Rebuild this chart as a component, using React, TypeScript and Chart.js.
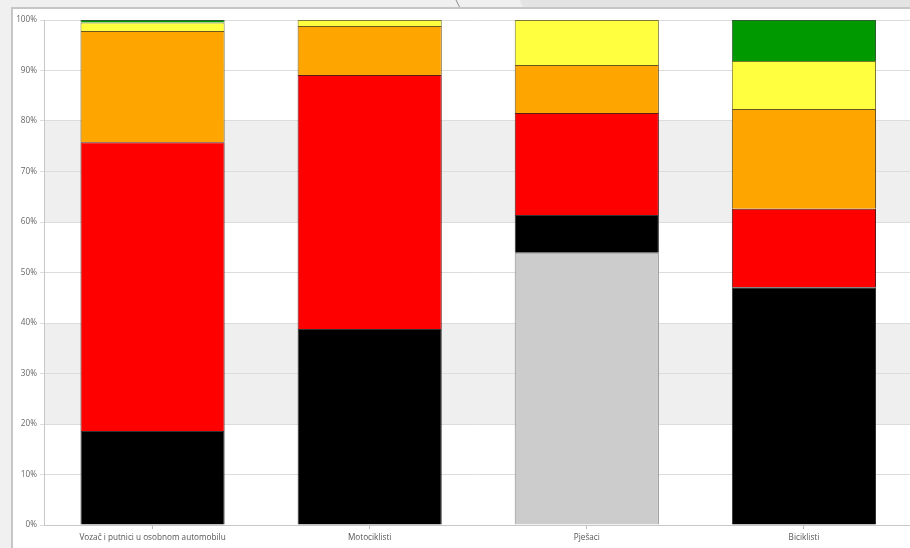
import React, { useEffect, useRef } from "react";
import { Chart, registerables } from "chart.js";

Chart.register(...registerables);

const categories = [
  "Vozač i putnici u osobnom automobilu",
  "Motociklisti",
  "Pješaci",
  "Biciklisti",
];
const greyValues = [null, null, 53.9, null];
const blackValues = [18.6, 38.8, 7.5, 47.1];
const redValues = [57.2, 50.3, 20.2, 15.5];
const orangeValues = [22.0, 9.7, 9.5, 19.8];
const yellowValues = [1.7, 1.2, 8.9, 9.5];
const greenValues = [0.5, null, null, 8.1];
const yTicks = [0, 10, 20, 30, 40, 50, 60, 70, 80, 90, 100];
const shadedBands = [
  [20, 40],
  [60, 80],
];

const W = 920;
const H = 548;

const backgroundPlugin = {
  id: "pageBackground",
  beforeDraw(chart: any) {
    const ctx = chart.ctx;
    const area = chart.chartArea;
    const y = chart.scales.y;
    ctx.save();
    ctx.fillStyle = "#f0f0f0";
    ctx.fillRect(0, 0, W, H);
    ctx.fillStyle = "#e4e4e4";
    ctx.beginPath();
    ctx.moveTo(520, 0);
    ctx.lineTo(W, 0);
    ctx.lineTo(W, 8);
    ctx.lineTo(523, 8);
    ctx.closePath();
    ctx.fill();
    ctx.strokeStyle = "#8a8a8a";
    ctx.lineWidth = 1;
    ctx.beginPath();
    ctx.moveTo(456, 0);
    ctx.lineTo(460, 8);
    ctx.stroke();
    ctx.fillStyle = "#ffffff";
    ctx.fillRect(12, 9, W, H);
    ctx.fillStyle = "#c6c6c6";
    ctx.fillRect(11, 7, W, 2);
    ctx.fillRect(11, 7, 2, H);
    ctx.fillStyle = "#efefef";
    for (const [a, b] of shadedBands) {
      const y1 = y.getPixelForValue(b);
      const y2 = y.getPixelForValue(a);
      ctx.fillRect(area.left, y1, area.right - area.left, y2 - y1);
    }
    ctx.restore();
  },
};

export default function App() {
  const ref = useRef<HTMLCanvasElement>(null);

  useEffect(() => {
    if (!ref.current) return;
    const mk = (label: string, data: any[], bg: string, border: string) => ({
      label,
      data,
      backgroundColor: bg,
      borderColor: border,
      borderWidth: 1,
      categoryPercentage: 1,
      barPercentage: 0.664,
    });
    const chart = new Chart(ref.current, {
      type: "bar",
      data: {
        labels: categories,
        datasets: [
          mk("Nepoznato", greyValues, "#cccccc", "#8c8c8c"),
          mk("Crna", blackValues, "#000000", "#333333"),
          mk("Crvena", redValues, "#ff0000", "#5a1a1a"),
          mk("Narančasta", orangeValues, "#ffa500", "#6b5520"),
          mk("Žuta", yellowValues, "#ffff40", "#7a7a30"),
          mk("Zelena", greenValues, "#009900", "#2f5f2f"),
        ],
      },
      options: {
        responsive: false,
        animation: false,
        layout: { padding: { top: 20, right: 7.5, left: 0, bottom: 0 } },
        plugins: {
          legend: { display: false },
          tooltip: { enabled: false },
        },
        scales: {
          x: {
            stacked: true,
            afterFit: (s: any) => {
              s.height = 23;
            },
            grid: {
              drawOnChartArea: false,
              drawTicks: true,
              tickLength: 4,
              color: "#bbbbbb",
              offset: false,
            },
            border: { color: "#c8c8c8", width: 1 },
            ticks: {
              color: "#555555",
              font: { family: "Open Sans", size: 8.2 },
              padding: 4,
              maxRotation: 0,
              autoSkip: false,
            },
          },
          y: {
            stacked: true,
            min: 0,
            max: 100,
            afterFit: (s: any) => {
              s.width = 44;
            },
            afterBuildTicks: (s: any) => {
              s.ticks = yTicks.map((v) => ({ value: v }));
            },
            grid: {
              color: "#dcdcdc",
              tickLength: 4,
            },
            border: { color: "#c8c8c8", width: 1 },
            ticks: {
              color: "#666666",
              font: { family: "Open Sans", size: 8.2 },
              padding: 3,
              callback: (v: any) => v + "%",
            },
          },
        },
      },
      plugins: [backgroundPlugin],
    });
    return () => chart.destroy();
  }, []);

  return (
    <div
      style={{
        position: "fixed",
        left: 0,
        top: 0,
        width: 910,
        height: 548,
        overflow: "hidden",
        background: "#f0f0f0",
      }}
    >
      <canvas
        ref={ref}
        width={W}
        height={H}
        style={{ width: W, height: H, display: "block" }}
      />
    </div>
  );
}
